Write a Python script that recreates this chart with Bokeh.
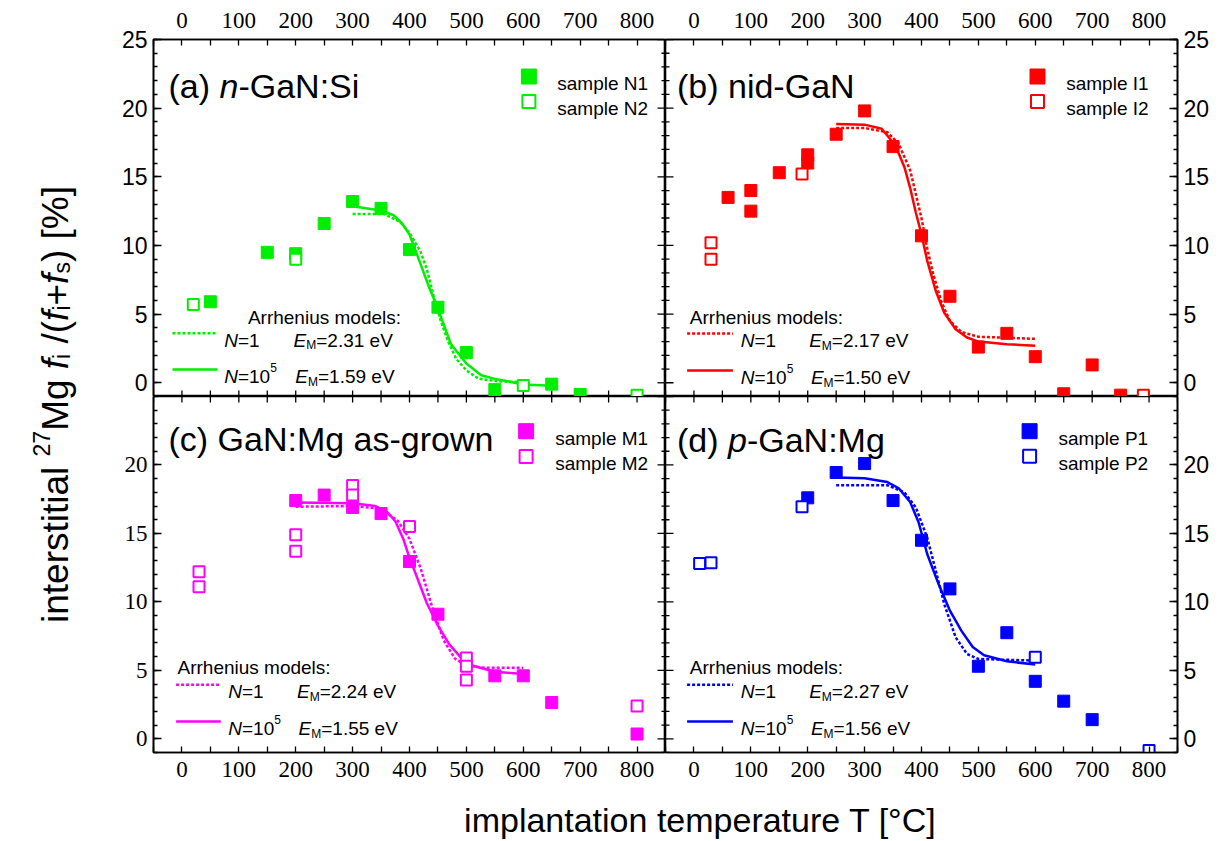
import math
from bokeh.plotting import figure
from bokeh.models import Range1d, LinearAxis, FixedTicker, Label
from bokeh.layouts import row, column
from bokeh.embed import file_html
from bokeh.resources import INLINE

# ---------------- data ----------------
x_ticks = [0, 100, 200, 300, 400, 500, 600, 700, 800]
x_minor = [-50, 50, 150, 250, 350, 450, 550, 650, 750, 850]
y_ticks_top = [0, 5, 10, 15, 20, 25]
y_ticks_bottom = [0, 5, 10, 15, 20]
y_minor = list(range(-1, 26))

# (a) n-GaN:Si
n1_x = [50, 150, 200, 250, 300, 350, 400, 450, 500, 550, 650, 700]
n1_y = [5.9, 9.5, 9.4, 11.6, 13.2, 12.7, 9.7, 5.5, 2.2, -0.5, -0.1, -0.85]
n2_x = [20, 200, 600, 800]
n2_y = [5.7, 9.0, -0.2, -0.9]
a_dot_x = [300, 355, 384, 401, 419, 431, 443, 455, 467, 482, 500, 521, 556, 600]
a_dot_y = [12.3, 12.3, 11.7, 10.85, 9.6, 8.2, 6.2, 4.5, 3.1, 1.75, 0.9, 0.3, 0.1, 0.05]
a_sol_x = [300, 350, 372, 387, 400, 419, 434, 449, 473, 500, 526, 549, 600, 650]
a_sol_y = [12.85, 12.55, 12.2, 11.6, 10.8, 8.7, 7.0, 5.5, 2.8, 1.4, 0.55, 0.3, -0.12, -0.22]

# (b) nid-GaN
i1_x = [60, 100, 100, 150, 200, 200, 250, 300, 350, 400, 450, 500, 550, 600, 650, 700, 750]
i1_y = [13.5, 14.0, 12.5, 15.3, 16.6, 16.0, 18.1, 19.8, 17.2, 10.7, 6.3, 2.6, 3.6, 1.9, -0.8, 1.3, -0.9]
i2_x = [30, 30, 190, 790]
i2_y = [10.2, 9.0, 15.2, -0.9]
b_dot_x = [250, 300, 340, 360, 380, 400, 410, 420, 435, 450, 470, 500, 600]
b_dot_y = [18.55, 18.55, 18.25, 17.4, 15.5, 12.0, 9.8, 8.0, 5.9, 4.5, 3.7, 3.35, 3.2]
b_sol_x = [250, 300, 330, 350, 360, 370, 380, 390, 400, 410, 425, 440, 460, 480, 500, 550, 600]
b_sol_y = [18.85, 18.8, 18.5, 17.5, 16.7, 15.7, 14.2, 12.4, 10.8, 8.9, 6.7, 5.1, 3.9, 3.3, 3.0, 2.8, 2.7]

# (c) GaN:Mg as-grown
m1_x = [200, 250, 300, 350, 400, 450, 550, 600, 650, 800]
m1_y = [17.4, 17.8, 16.9, 16.45, 12.95, 9.1, 4.6, 4.6, 2.65, 0.35]
m2_x = [30, 30, 200, 200, 300, 300, 400, 500, 500, 500, 800]
m2_y = [12.2, 11.1, 14.9, 13.7, 18.5, 17.8, 15.5, 5.9, 5.3, 4.3, 2.4]
c_dot_x = [200, 300, 350, 380, 400, 420, 440, 460, 480, 500, 530, 600]
c_dot_y = [16.95, 17.0, 16.8, 15.9, 14.6, 12.4, 9.6, 7.2, 5.85, 5.35, 5.2, 5.18]
c_sol_x = [200, 300, 340, 360, 375, 390, 400, 410, 430, 450, 470, 490, 510, 550, 600]
c_sol_y = [17.25, 17.2, 17.0, 16.6, 15.9, 14.5, 13.2, 12.15, 9.96, 8.26, 6.9, 5.95, 5.35, 4.9, 4.74]

# (d) p-GaN:Mg
p1_x = [200, 250, 300, 350, 400, 450, 500, 550, 600, 650, 700]
p1_y = [17.6, 19.45, 20.1, 17.4, 14.5, 10.95, 5.3, 7.75, 4.2, 2.75, 1.4]
p2_x = [10, 30, 190, 600, 800]
p2_y = [12.8, 12.85, 16.95, 5.95, -0.85]
d_dot_x = [250, 340, 370, 390, 410, 425, 440, 460, 480, 500, 600]
d_dot_y = [18.52, 18.52, 18.0, 16.9, 14.7, 12.3, 9.84, 7.41, 6.2, 5.83, 5.71]
d_sol_x = [250, 300, 340, 360, 380, 395, 410, 430, 450, 470, 490, 510, 550, 600]
d_sol_y = [19.08, 19.03, 18.75, 18.3, 17.3, 15.8, 13.5, 11.3, 9.36, 7.9, 6.7, 6.1, 5.66, 5.42]

sample_labels = [("sample N1", "sample N2"), ("sample I1", "sample I2"),
                 ("sample M1", "sample M2"), ("sample P1", "sample P2")]
em_n1 = ["2.31", "2.17", "2.24", "2.27"]
em_n5 = ["1.59", "1.50", "1.55", "1.56"]
colors = ["#00ee00", "#ff0000", "#ff00ff", "#0000ff"]
x_title = "implantation temperature T [°C]"

# ---------------- layout constants ----------------
SANS = "Liberation Sans"
NARROW = "Liberation Sans Narrow"
SERIF = "Liberation Serif"
XR = (-50, 850)
YR = (-1, 25)
FW = 512
FH_TOP = 357
FH_BOT = 356

AW = {' ': 278, '(': 333, ')': 333, '[': 278, ']': 278, '%': 889, '+': 584, '-': 333,
      '.': 278, '/': 278, ':': 278, '=': 584, 'A': 667, 'E': 667, 'G': 778, 'M': 833,
      'N': 722, 'S': 667, 'V': 667, 'a': 556, 'b': 556, 'c': 500, 'd': 556, 'e': 556,
      'f': 278, 'g': 556, 'h': 556, 'i': 222, 'l': 222, 'm': 833, 'n': 556, 'o': 556,
      'p': 556, 'r': 333, 's': 500, 't': 278, 'u': 556, 'w': 722}


def tw(s, size):
    return sum(AW.get(c, 556) for c in s) * size / 1000.0


def split_lead(text, size):
    body = text.lstrip(" ")
    lead = tw(text[:len(text) - len(body)], size)
    return body.rstrip(" "), lead


def make_fig(width, height, left, right, top, bottom, xr, yr):
    p = figure(width=width, height=height, x_range=Range1d(*xr), y_range=Range1d(*yr),
               x_axis_location=None, y_axis_location=None, toolbar_location=None,
               title_location=None, output_backend="svg", min_border_left=left,
               min_border_right=right, min_border_top=top, min_border_bottom=bottom)
    p.outline_line_color = None
    p.grid.visible = False
    p.background_fill_color = "white"
    p.border_fill_color = "white"
    return p


def add_axis(p, side, ticks, minor, tick_len, minor_len, font, size, standoff):
    ax = LinearAxis(ticker=FixedTicker(ticks=ticks, minor_ticks=minor))
    ax.axis_line_width = 1.6
    ax.axis_line_color = "black"
    ax.major_tick_in = tick_len
    ax.major_tick_out = 0
    ax.minor_tick_in = minor_len
    ax.minor_tick_out = 0
    ax.major_tick_line_width = 1.3
    ax.minor_tick_line_width = 1.3
    ax.major_tick_line_color = "black"
    ax.minor_tick_line_color = "black"
    ax.major_label_text_font = font
    ax.major_label_text_font_size = size
    ax.major_label_text_color = "black"
    ax.major_label_standoff = standoff
    p.add_layout(ax, side)


def build_panel(idx, fx, fy, ox, oy, dotx, doty, solx, soly, L):
    top_row = idx < 2
    left_col = idx % 2 == 0
    fh = FH_TOP if top_row else FH_BOT
    width = (63 + FW) if left_col else (FW + 46)
    height = (39 + fh) if top_row else (fh + 45)
    p = make_fig(width, height, 63 if left_col else 0, 0 if left_col else 46,
                 39 if top_row else 0, 0 if top_row else 45, XR, YR)
    p.outline_line_color = "black"
    p.outline_line_width = 1.6
    yt = y_ticks_top if top_row else y_ticks_bottom
    ypx = (YR[1] - YR[0]) / fh      # data units per pixel (y)
    xpx = (XR[1] - XR[0]) / FW      # data units per pixel (x)

    # outer axes with labels
    if top_row:
        add_axis(p, "above", x_ticks, x_minor, 6, 6, NARROW, "23px", 12)
    else:
        add_axis(p, "below", x_ticks, x_minor, 6, 6, NARROW, "23px", 9)
    if left_col:
        add_axis(p, "left", yt, y_minor, 8, 4, SANS if top_row else SERIF, "23px", 6)
    else:
        add_axis(p, "right", yt, y_minor, 8, 4, SANS, "23px", 6)

    # inner-edge tick marks (pointing into the frame)
    xt_all = x_ticks + x_minor
    ymaj = list(y_ticks_top)
    ymin = [v for v in y_minor if v not in y_ticks_top]
    if top_row:
        p.segment(x0=xt_all, y0=[YR[0]] * len(xt_all), x1=xt_all,
                  y1=[YR[0] + 6 * ypx] * len(xt_all), line_color="black", line_width=1.3)
    else:
        p.segment(x0=xt_all, y0=[YR[1]] * len(xt_all), x1=xt_all,
                  y1=[YR[1] - 6 * ypx] * len(xt_all), line_color="black", line_width=1.3)
    if left_col:
        xe, sgn = XR[1], -1
    else:
        xe, sgn = XR[0], 1
    p.segment(x0=[xe] * len(ymaj), y0=ymaj, x1=[xe + sgn * 8 * xpx] * len(ymaj), y1=ymaj,
              line_color="black", line_width=1.3)
    p.segment(x0=[xe] * len(ymin), y0=ymin, x1=[xe + sgn * 4 * xpx] * len(ymin), y1=ymin,
              line_color="black", line_width=1.3)

    col = colors[idx]

    def dx(rel):
        return XR[0] + rel * xpx

    def dy(rel):
        return YR[1] - rel * ypx

    def rich(x_rel, base_rel, pieces):
        cur = x_rel
        for text, size, style, off in pieces:
            body, lead = split_lead(text, size)
            p.add_layout(Label(x=dx(cur + lead), y=dy(base_rel + off), text=body,
                               text_font=SANS, text_font_size=f"{size}px",
                               text_font_style=style, text_color="black",
                               text_baseline="alphabetic", text_align="left"))
            cur += tw(text, size)

    # model curves
    p.line(dotx, doty, line_color=col, line_width=2.5, line_dash="3 2")
    p.line(solx, soly, line_color=col, line_width=2.5)
    # data points
    p.scatter(fx, fy, marker="square", size=12, fill_color=col, line_color=col, line_width=1)
    p.scatter(ox, oy, marker="square", size=11, fill_color="white", line_color=col, line_width=2)

    # title
    rich(L["title_x"], L["title_base"], L["title"])
    # sample legend
    s1, s2 = sample_labels[idx]
    p.scatter([dx(L["sq_x"])], [dy(L["sq_y1"])], marker="square", size=15,
              fill_color=col, line_color=col, line_width=1)
    p.scatter([dx(L["sq_x"])], [dy(L["sq_y2"])], marker="square", size=13,
              fill_color="white", line_color=col, line_width=2)
    rich(L["sq_text_x"], L["sq_y1"] + 7, [(s1, 19, "normal", 0)])
    rich(L["sq_text_x"], L["sq_y2"] + 7, [(s2, 19, "normal", 0)])
    # Arrhenius legend
    rich(L["arr_x"], L["arr_base"], [("Arrhenius models:", 19, "normal", 0)])
    p.line([dx(L["ln_x0"]), dx(L["ln_x1"])], [dy(L["row1"])] * 2, line_color=col,
           line_width=2.5, line_dash="3 2")
    p.line([dx(L["ln_x0"]), dx(L["ln_x1"])], [dy(L["row2"])] * 2, line_color=col,
           line_width=2.5)
    rich(L["n_x"], L["row1"] + 7, [("N", 19, "italic", 0), ("=1", 19, "normal", 0)])
    rich(L["e_x1"], L["row1"] + 7, [("E", 19, "italic", 0), ("M", 12, "normal", 5),
                                    ("=" + em_n1[idx] + " eV", 19, "normal", 0)])
    rich(L["n_x"], L["row2"] + 7, [("N", 19, "italic", 0), ("=10", 19, "normal", 0),
                                   ("5", 12, "normal", -9)])
    rich(L["e_x2"], L["row2"] + 7, [("E", 19, "italic", 0), ("M", 12, "normal", 5),
                                    ("=" + em_n5[idx] + " eV", 19, "normal", 0)])
    return p


layouts = [
    dict(title=[("(a) ", 34, "normal", 0), ("n", 34, "italic", 0), ("-GaN:Si", 34, "normal", 0)],
         title_x=15, title_base=46, sq_x=375.4, sq_y1=37, sq_y2=62, sq_text_x=403.8,
         arr_x=94.4, arr_base=277.5, ln_x0=19, ln_x1=64, row1=293.7, row2=330,
         n_x=70.7, e_x1=140.1, e_x2=141.8),
    dict(title=[("(b) nid-GaN", 34, "normal", 0)],
         title_x=11.5, title_base=46, sq_x=372, sq_y1=37, sq_y2=62, sq_text_x=400.7,
         arr_x=24.3, arr_base=277.5, ln_x0=21.6, ln_x1=67.4, row1=294, row2=331,
         n_x=75.2, e_x1=143.7, e_x2=145.4),
    dict(title=[("(c) GaN:Mg as-grown", 34, "normal", 0)],
         title_x=15, title_base=42.5, sq_x=372.6, sq_y1=34.7, sq_y2=60, sq_text_x=401.7,
         arr_x=24, arr_base=271.3, ln_x0=22.6, ln_x1=67.3, row1=288.3, row2=325,
         n_x=74.8, e_x1=143.5, e_x2=145.1),
    dict(title=[("(d) ", 34, "normal", 0), ("p", 34, "italic", 0), ("-GaN:Mg", 34, "normal", 0)],
         title_x=11.5, title_base=43, sq_x=364.1, sq_y1=34.7, sq_y2=59.7, sq_text_x=392.9,
         arr_x=24.3, arr_base=271.3, ln_x0=21.6, ln_x1=67.4, row1=288.3, row2=325,
         n_x=75.2, e_x1=143.7, e_x2=145.4),
]

pa = build_panel(0, n1_x, n1_y, n2_x, n2_y, a_dot_x, a_dot_y, a_sol_x, a_sol_y, layouts[0])
pb = build_panel(1, i1_x, i1_y, i2_x, i2_y, b_dot_x, b_dot_y, b_sol_x, b_sol_y, layouts[1])
pc = build_panel(2, m1_x, m1_y, m2_x, m2_y, c_dot_x, c_dot_y, c_sol_x, c_sol_y, layouts[2])
pd = build_panel(3, p1_x, p1_y, p2_x, p2_y, d_dot_x, d_dot_y, d_sol_x, d_sol_y, layouts[3])

# ---- shared y-axis title (rotated, built from styled pieces) ----
H = 841
yfig = make_fig(90, H, 0, 0, 0, 0, (0, 90), (0, H))
YS = 37
YSS = 23
ypieces = [("interstitial ", YS, "normal", 0), ("27", YSS, "normal", -14), ("Mg ", YS, "normal", 0),
           ("f", YS, "italic", 0), ("i", YSS, "normal", 6), (" /(", YS, "normal", 0),
           ("f", YS, "italic", 0), ("i", YSS, "normal", 6), ("+", YS, "normal", 0),
           ("f", YS, "italic", 0), ("s", YSS, "normal", 6), (") [%]", YS, "normal", 0)]
total = sum(tw(t, s) for t, s, _, _ in ypieces)
cur = (H - 404) - total / 2.0
for t, s, st, off in ypieces:
    body, lead = split_lead(t, s)
    yfig.add_layout(Label(x=55 + off, y=cur + lead, text=body, angle=math.pi / 2, text_font=SANS,
                          text_font_size=f"{s}px", text_font_style=st, text_color="black",
                          text_baseline="alphabetic", text_align="left"))
    cur += tw(t, s)

# ---- shared x-axis title ----
XW = 2 * FW + 63 + 46
xfig = make_fig(XW, 44, 0, 0, 0, 0, (0, XW), (0, 44))
xfig.add_layout(Label(x=610, y=22, text=x_title, text_font=SANS, text_font_size="34px",
                      text_color="black", text_align="center", text_baseline="alphabetic"))

layout = row(yfig, column(row(pa, pb, spacing=0), row(pc, pd, spacing=0), xfig, spacing=0), spacing=0)

open("out.html", "w").write(file_html(layout, INLINE))
